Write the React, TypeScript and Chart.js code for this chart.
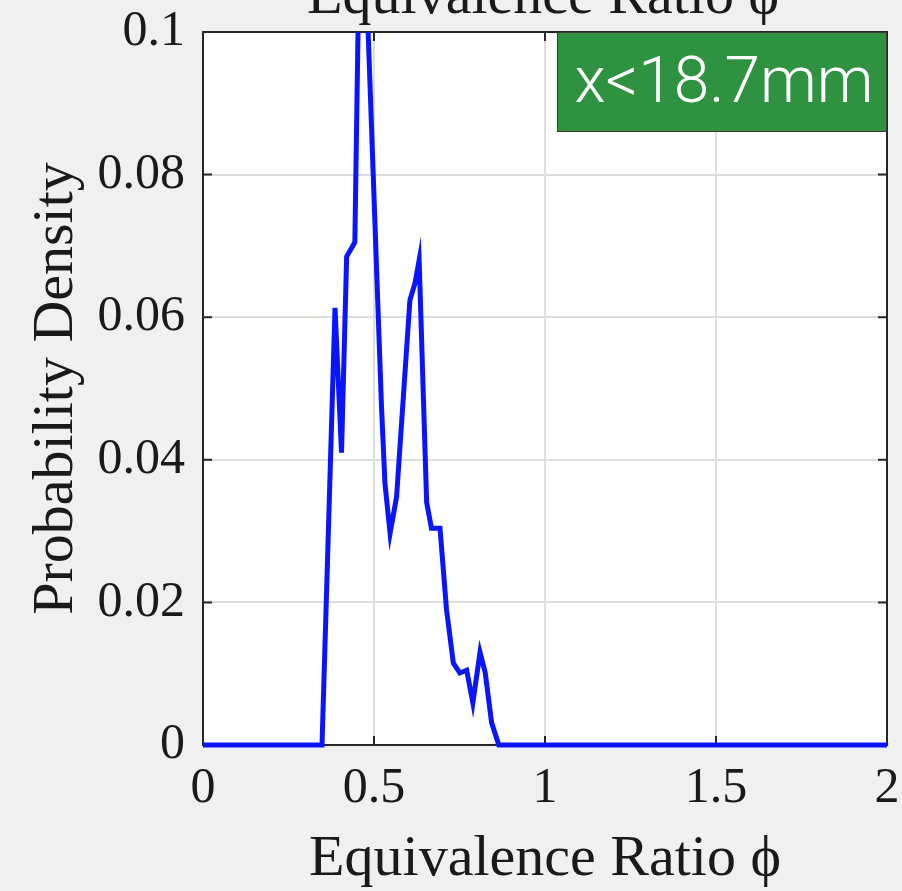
import React, { useEffect, useRef } from "react";
import { Chart, registerables } from "chart.js";

Chart.register(...registerables);

const phi = [0, 0.348, 0.386, 0.405, 0.42, 0.444, 0.462, 0.522, 0.532, 0.547, 0.566, 0.605, 0.62, 0.632, 0.654, 0.668, 0.693, 0.712, 0.732, 0.751, 0.771, 0.789, 0.81, 0.825, 0.844, 0.865, 2];
const density = [0, 0, 0.0613, 0.041, 0.0685, 0.0705, 0.128, 0.0474, 0.0367, 0.0297, 0.0348, 0.0624, 0.0648, 0.068, 0.034, 0.0304, 0.0304, 0.019, 0.0115, 0.0101, 0.0105, 0.0059, 0.013, 0.0102, 0.0031, 0, 0];

const xTicks = [0, 0.5, 1, 1.5, 2];
const xTickLabels = ["0", "0.5", "1", "1.5", "2"];
const yTicks = [0, 0.02, 0.04, 0.06, 0.08, 0.1];
const yTickLabels = ["0", "0.02", "0.04", "0.06", "0.08", "0.1"];

const xTitle = "Equivalence Ratio \u03D5";
const yTitle = "Probability Density";
const topTitle = "Equivalence Ratio \u03D5";
const boxLabel = "x<18.7mm";

const SERIF = "'Liberation Serif', 'DejaVu Serif', serif";

const framePlugin = {
  id: "frame",
  beforeDraw(chart: any) {
    const { ctx, chartArea: a, width, height } = chart;
    ctx.save();
    ctx.fillStyle = "#f0f0f0";
    ctx.fillRect(0, 0, width, height);
    ctx.fillStyle = "#ffffff";
    ctx.fillRect(a.left, a.top, a.right - a.left, a.bottom - a.top);
    // top cut title
    ctx.fillStyle = "#1a1a1a";
    ctx.font = `58px ${SERIF}`;
    ctx.textAlign = "center";
    ctx.textBaseline = "alphabetic";
    ctx.fillText(topTitle, (a.left + a.right) / 2 - 2, 13);
    ctx.restore();
  },
  beforeDatasetsDraw(chart: any) {
    const { ctx, chartArea: a, scales } = chart;
    ctx.save();
    ctx.strokeStyle = "#262626";
    ctx.lineWidth = 2;
    ctx.strokeRect(a.left, a.top, a.right - a.left, a.bottom - a.top);
    ctx.beginPath();
    const tl = 9;
    xTicks.forEach((v) => {
      const x = scales.x.getPixelForValue(v);
      ctx.moveTo(x, a.bottom);
      ctx.lineTo(x, a.bottom - tl);
      ctx.moveTo(x, a.top);
      ctx.lineTo(x, a.top + tl);
    });
    yTicks.forEach((v) => {
      const y = scales.y.getPixelForValue(v);
      ctx.moveTo(a.left, y);
      ctx.lineTo(a.left + tl, y);
      ctx.moveTo(a.right, y);
      ctx.lineTo(a.right - tl, y);
    });
    ctx.stroke();
    ctx.restore();
  },
  afterDraw(chart: any) {
    const { ctx, chartArea: a } = chart;
    ctx.save();
    const w = 330;
    const h = 100;
    const x0 = a.right - w;
    const y0 = a.top;
    ctx.fillStyle = "#2e9241";
    ctx.fillRect(x0, y0, w, h);
    ctx.strokeStyle = "#3a3a3a";
    ctx.lineWidth = 1;
    ctx.strokeRect(x0 + 0.5, y0 + 0.5, w - 1, h - 1);
    ctx.fillStyle = "#ffffff";
    ctx.font = "300 64px Roboto, 'Liberation Sans', sans-serif";
    ctx.textAlign = "center";
    ctx.textBaseline = "middle";
    ctx.fillText(boxLabel, x0 + w / 2 + 2, y0 + h / 2 + 4);
    ctx.restore();
  },
};

export default function App() {
  const ref = useRef<HTMLCanvasElement | null>(null);
  useEffect(() => {
    if (!ref.current) return;
    const chart = new Chart(ref.current, {
      type: "line",
      data: {
        datasets: [
          {
            data: phi.map((x, i) => ({ x, y: density[i] })),
            borderColor: "#0a14ff",
            borderWidth: 5,
            pointRadius: 0,
            tension: 0,
            fill: false,
            clip: { left: 5, right: 5, top: 0, bottom: 5 } as any,
          },
        ],
      },
      options: {
        animation: false,
        responsive: false,
        maintainAspectRatio: false,
        layout: { padding: { top: 32, right: 15, left: 0, bottom: 0 } },
        plugins: { legend: { display: false }, tooltip: { enabled: false } },
        scales: {
          x: {
            type: "linear",
            min: 0,
            max: 2,
            afterFit: (s: any) => {
              s.height = 146;
              s.paddingLeft = 0;
              s.paddingRight = 0;
            },
            afterBuildTicks: (s: any) => {
              s.ticks = xTicks.map((v) => ({ value: v }));
            },
            ticks: {
              callback: (v: any) => {
                const i = xTicks.indexOf(Number(v));
                return i >= 0 ? xTickLabels[i] : "";
              },
              font: { family: SERIF, size: 50 },
              color: "#1a1a1a",
              padding: 14,
              maxRotation: 0,
              autoSkip: false,
            },
            grid: { color: "#dedede", lineWidth: 2, drawTicks: false },
            border: { display: false },
            title: {
              display: true,
              text: xTitle,
              font: { family: SERIF, size: 58, lineHeight: 1 },
              color: "#1a1a1a",
              padding: { top: 0, bottom: 2 },
            },
          },
          y: {
            type: "linear",
            min: 0,
            max: 0.1,
            afterFit: (s: any) => {
              s.width = 203;
              s.paddingTop = 0;
              s.paddingBottom = 0;
            },
            afterBuildTicks: (s: any) => {
              s.ticks = yTicks.map((v) => ({ value: v }));
            },
            ticks: {
              callback: (v: any) => {
                const i = yTicks.findIndex((t) => Math.abs(t - Number(v)) < 1e-9);
                return i >= 0 ? yTickLabels[i] : "";
              },
              font: { family: SERIF, size: 50 },
              color: "#1a1a1a",
              padding: 18,
              autoSkip: false,
            },
            grid: { color: "#dedede", lineWidth: 2, drawTicks: false },
            border: { display: false },
            title: {
              display: true,
              text: yTitle,
              font: { family: SERIF, size: 58, lineHeight: 1 },
              color: "#1a1a1a",
              padding: { top: 28, bottom: 0 },
            },
          },
        },
      },
      plugins: [framePlugin],
    });
    return () => chart.destroy();
  }, []);
  return (
    <div style={{ position: "absolute", left: 0, top: 0, width: 902, height: 891, background: "#f0f0f0" }}>
      <canvas ref={ref} width={902} height={891} style={{ display: "block", width: 902, height: 891 }} />
    </div>
  );
}
